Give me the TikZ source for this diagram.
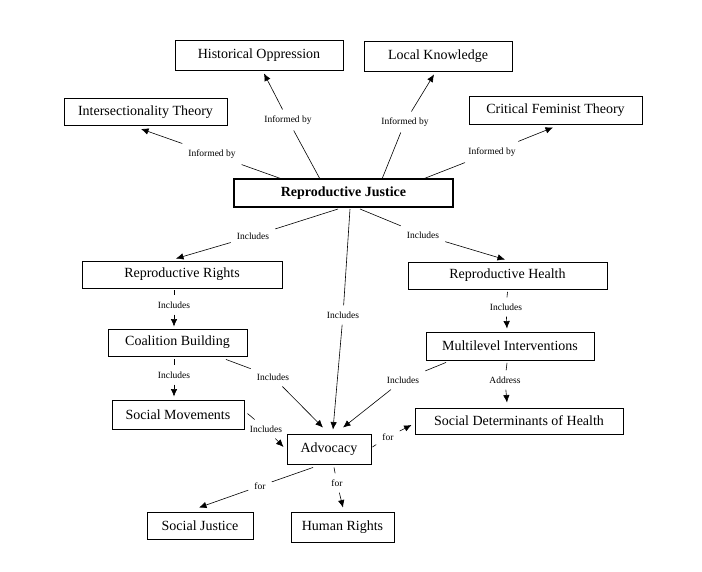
\documentclass[tikz,border=0pt]{standalone}
\usepackage{fontspec}
\setmainfont{Liberation Serif}
\usetikzlibrary{arrows.meta}
\tikzset{
  box/.style={draw, line width=0.9pt, inner sep=0pt, font=\fontsize{14}{16}\selectfont},
  lbl/.style={inner sep=6pt, font=\fontsize{9.5}{11}\selectfont},
  seg/.style={line width=0.6pt},
  conn/.style={line width=0.6pt, -{Latex[length=7.5pt,width=6.5pt]}}
}
\begin{document}
\begin{tikzpicture}[x=1pt,y=-1pt]
\fill[white] (0,0) rectangle (702,571);
\useasboundingbox (0,0) rectangle (702,571);
% concept nodes
\node[box, minimum width=168pt, minimum height=30pt] (ho) at (259,55) {Historical Oppression};
\node[box, minimum width=148pt, minimum height=30pt] (lk) at (438,56) {Local Knowledge};
\node[box, minimum width=163pt, minimum height=27pt] (it) at (145.5,112) {Intersectionality Theory};
\node[box, minimum width=173pt, minimum height=28pt] (cf) at (555.5,110) {Critical Feminist Theory};
\node[box, line width=2pt, minimum width=219pt, minimum height=28pt, font=\fontsize{14}{16}\selectfont\bfseries] (rj) at (343.5,193) {Reproductive Justice};
\node[box, minimum width=200pt, minimum height=27pt] (rr) at (182,274.5) {Reproductive Rights};
\node[box, minimum width=199pt, minimum height=27pt] (rh) at (507.5,275.5) {Reproductive Health};
\node[box, minimum width=139pt, minimum height=27pt] (cb) at (177.5,342.5) {Coalition Building};
\node[box, minimum width=168pt, minimum height=28pt] (mi) at (510,346) {Multilevel Interventions};
\node[box, minimum width=132pt, minimum height=29pt] (sm) at (178,414.5) {Social Movements};
\node[box, minimum width=208pt, minimum height=26pt] (sdh) at (519,421) {Social Determinants of Health};
\node[box, minimum width=84pt, minimum height=30pt] (adv) at (329,449) {Advocacy};
\node[box, minimum width=106pt, minimum height=27pt] (sj) at (200,525.5) {Social Justice};
\node[box, minimum width=103pt, minimum height=30pt] (hr) at (342.5,527) {Human Rights};
% link labels
\node[lbl] (l1) at (212,154) {Informed by};
\node[lbl] (l2) at (288,120) {Informed by};
\node[lbl] (l3) at (405,122) {Informed by};
\node[lbl] (l4) at (492,152) {Informed by};
\node[lbl] (l5) at (253,236) {Includes};
\node[lbl] (l6) at (343,315) {Includes};
\node[lbl] (l7) at (423,235) {Includes};
\node[lbl] (l8) at (174,305) {Includes};
\node[lbl] (l9) at (174,375) {Includes};
\node[lbl] (l10) at (273,377) {Includes};
\node[lbl] (l11) at (266,429) {Includes};
\node[lbl] (l12) at (506,307) {Includes};
\node[lbl] (l13) at (505,380) {Address};
\node[lbl] (l14) at (403,380) {Includes};
\node[lbl] (l15) at (388,437) {for};
\node[lbl] (l16) at (260,486) {for};
\node[lbl] (l17) at (337,483) {for};
% connectors
\draw[seg] ([shift={(-61.5,1)}]rj.north) -- (l1); \draw[conn] (l1) -- ([shift={(-4.5,3)}]it.south);
\draw[seg] ([shift={(-23.5,1)}]rj.north) -- (l2); \draw[conn] (l2) -- ([shift={(5,3)}]ho.south);
\draw[seg] ([shift={(38.5,1)}]rj.north) -- (l3); \draw[conn] (l3) -- ([shift={(-4,3)}]lk.south);
\draw[seg] ([shift={(79.5,1)}]rj.north) -- (l4); \draw[conn] (l4) -- ([shift={(-2.5,3)}]cf.south);
\draw[seg] ([shift={(-5.5,1)}]rj.south) -- (l5); \draw[conn] (l5) -- ([shift={(-6,-2)}]rr.north);
\draw[seg] ([shift={(6.5,1)}]rj.south) -- (l6); \draw[conn] (l6) -- ([shift={(4,-4)}]adv.north);
\draw[seg] ([shift={(16.5,1)}]rj.south) -- (l7); \draw[conn] (l7) -- ([shift={(-2.5,-2)}]rh.north);
\draw[seg] ([shift={(-8,2)}]rr.south) -- (l8); \draw[conn] (l8) -- ([shift={(-3.5,-2)}]cb.north);
\draw[seg] ([shift={(-3.5,3)}]cb.south) -- (l9); \draw[conn] (l9) -- ([shift={(-4,-3)}]sm.north);
\draw[seg] ([shift={(48.5,3)}]cb.south) -- (l10); \draw[conn] (l10) -- ([shift={(-6,-6)}]adv.north);
\draw[seg] ([shift={(3,-1)}]sm.east) -- (l11); \draw[conn] (l11) -- ([shift={(-3,-2)}]adv.west);
\draw[seg] ([shift={(0,2.5)}]rh.south) -- (l12); \draw[conn] (l12) -- ([shift={(-3,-3)}]mi.north);
\draw[seg] ([shift={(-3,2.5)}]mi.south) -- (l13); \draw[conn] (l13) -- ([shift={(-12,-5)}]sdh.north);
\draw[seg] ([shift={(-64,2)}]mi.south) -- (l14); \draw[conn] (l14) -- ([shift={(14,-6)}]adv.north);
\draw[seg] ([shift={(1,-2)}]adv.east) -- (l15); \draw[conn] (l15) -- ([shift={(-3,4)}]sdh.west);
\draw[seg] ([shift={(-16,3)}]adv.south) -- (l16); \draw[conn] (l16) -- ([shift={(-1,-4)}]sj.north);
\draw[seg] ([shift={(5,3)}]adv.south) -- (l17); \draw[conn] (l17) -- ([shift={(0.5,-4)}]hr.north);
\end{tikzpicture}
\end{document}
